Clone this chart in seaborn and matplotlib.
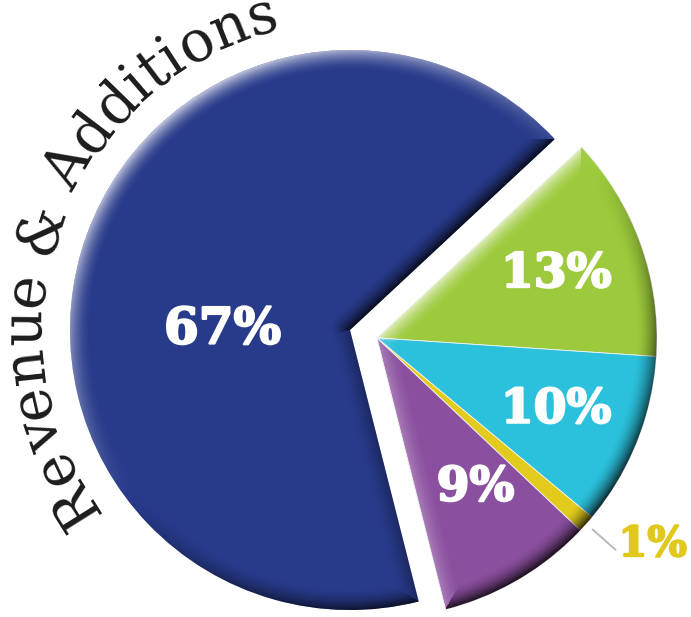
import numpy as np
import pandas as pd
import matplotlib
matplotlib.use("Agg")
import matplotlib.pyplot as plt
import matplotlib.patheffects as pe
from matplotlib.patches import Wedge
from matplotlib.font_manager import FontProperties, findfont, get_font
import seaborn as sns

# slices, clockwise from the upper edge of the green slice
categories = ["Green", "Cyan", "Yellow", "Purple", "Blue"]
shares = [13, 10, 1, 9, 67]
labels = ["13%", "10%", "1%", "9%", "67%"]
colors = ["#9dca3c", "#2bc0db", "#e2cb1d", "#8a4f9e", "#283a8a"]
title = "Revenue & Additions"

# layout (pixels of the 691x617 picture)
W, H, DPI = 691, 617, 100
R_PX = 280.0
CX, CY = 350.0, 330.0
START = 43.0
EXPLODE = 0.1
BEVEL = 0.075
LIGHT = np.array([-0.6, 0.8])
TITLE_R = 309.0
TITLE_PT = 41
TITLE_MID = 159.5

sns.set_style("white")

df = pd.DataFrame({"cat": categories, "share": shares, "label": labels, "color": colors})

fig = plt.figure(figsize=(W / DPI, H / DPI), dpi=DPI)
ax = fig.add_axes([0, 0, 1, 1])
x0, x1 = -CX / R_PX, (W - CX) / R_PX
y0, y1 = -(H - CY) / R_PX, CY / R_PX

wedges, _ = ax.pie(df.share, colors=df.color, startangle=START, counterclock=False,
                   radius=1, wedgeprops=dict(linewidth=0))

# the four small slices are pulled out together
g1, g2 = wedges[3].theta1, wedges[0].theta2
gmid = np.radians((g1 + g2) / 2)
gx, gy = EXPLODE * np.cos(gmid), EXPLODE * np.sin(gmid)
for w in wedges[:4]:
    w.set_center((gx, gy))
    w.set_edgecolor("#f4f4f4")
    w.set_linewidth(0.6)

xs = np.linspace(x0, x1, W)
ys = np.linspace(y1, y0, H)
X, Y = np.meshgrid(xs, ys)


def bevel(cx, cy, t1, t2, hi=0.7, lo=0.8):
    px, py = X - cx, Y - cy
    rho = np.hypot(px, py) + 1e-9
    dists = [1 - rho]
    nxs = [px / rho]
    nys = [py / rho]
    for t, sgn in ((np.radians(t1), -1), (np.radians(t2), 1)):
        u = np.array([np.cos(t), np.sin(t)])
        nrm = sgn * np.array([-u[1], u[0]])
        tt = np.clip(px * u[0] + py * u[1], 0, 1)
        dists.append(np.hypot(px - tt * u[0], py - tt * u[1]))
        nxs.append(np.full_like(X, nrm[0]))
        nys.append(np.full_like(X, nrm[1]))
    D = np.stack(dists)
    k = D.argmin(0)[None]
    d = np.take_along_axis(D, k, 0)[0]
    nx = np.take_along_axis(np.stack(nxs), k, 0)[0]
    ny = np.take_along_axis(np.stack(nys), k, 0)[0]
    light = nx * LIGHT[0] + ny * LIGHT[1]
    f = np.clip(1 - d / BEVEL, 0, 1) ** 1.8
    a = light * f
    rgba = np.zeros((H, W, 4))
    rgba[..., :3] = (a > 0)[..., None]
    rgba[..., 3] = np.clip(np.where(a > 0, a * hi, -a * lo), 0, 1)
    return rgba


blue = wedges[4]
im = ax.imshow(bevel(0, 0, blue.theta1, blue.theta2), extent=(x0, x1, y0, y1),
               zorder=3, interpolation="bilinear")
im.set_clip_path(blue)

group = Wedge((gx, gy), 1, g1, g2, transform=ax.transData)
im2 = ax.imshow(bevel(gx, gy, g1, g2), extent=(x0, x1, y0, y1),
                zorder=3, interpolation="bilinear")
im2.set_clip_path(group)

# percentage labels
lab_font = dict(family="DejaVu Serif", weight="bold", ha="center", va="center", zorder=5)
white_fx = [pe.withStroke(linewidth=1.6, foreground="white")]
dist = {0: 0.68, 1: 0.69, 3: 0.64}
for i in [0, 1, 3]:
    w = wedges[i]
    t = np.radians((w.theta1 + w.theta2) / 2 + (3 if i == 3 else 0))
    ax.text(gx + dist[i] * np.cos(t), gy + dist[i] * np.sin(t), df.label[i],
            color="white", fontsize=34, path_effects=white_fx, **lab_font)
ax.text(-0.455, 0.0, df.label[4], color="white", fontsize=36, path_effects=white_fx, **lab_font)

wy = wedges[2]
t = np.radians((wy.theta1 + wy.theta2) / 2)
ax.plot([gx + 1.03 * np.cos(t), gx + 1.14 * np.cos(t)],
        [gy + 1.03 * np.sin(t), gy + 1.14 * np.sin(t)], color="#b5b5b5", lw=1.3, zorder=4)
ta = np.radians(-36.8)
ax.text(gx + 1.23 * np.cos(ta), gy + 1.23 * np.sin(ta), df.label[2], color="#e0c81c",
        fontsize=30, path_effects=[pe.withStroke(linewidth=1.4, foreground="#e0c81c")], **lab_font)

# title bent round the pie
prop = FontProperties(family="DejaVu Serif", size=TITLE_PT)
font = get_font(findfont(prop))
font.set_size(TITLE_PT, DPI)
adv = [font.load_char(ord(c)).linearHoriAdvance / 65536 for c in title]
total = sum(adv)
start = np.radians(TITLE_MID) + total / TITLE_R / 2
pos = 0.0
for c, a in zip(title, adv):
    th = start - (pos + a / 2) / TITLE_R
    pos += a
    r = TITLE_R / R_PX
    ax.text(r * np.cos(th), r * np.sin(th), c, fontproperties=prop, color="#1c1c1c",
            rotation=np.degrees(th) - 90, rotation_mode="anchor",
            ha="center", va="baseline", zorder=5)

ax.set_xlim(x0, x1)
ax.set_ylim(y0, y1)
ax.set_aspect("equal")
ax.axis("off")
fig.savefig("out.png", dpi=DPI, facecolor="white")
